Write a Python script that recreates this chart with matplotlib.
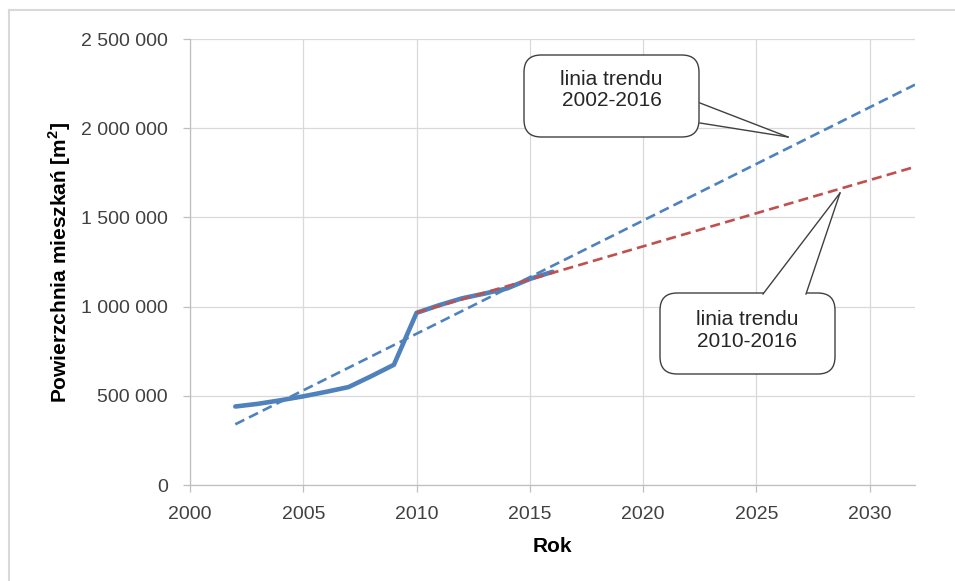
import numpy as np
import matplotlib
matplotlib.use("Agg")
import matplotlib.pyplot as plt
from matplotlib.patches import FancyBboxPatch, Polygon
from matplotlib.lines import Line2D
from matplotlib.ticker import FuncFormatter

# dane
lata = [2002, 2003, 2004, 2005, 2006, 2007, 2008, 2009,
        2010, 2011, 2012, 2013, 2014, 2015, 2016]
powierzchnia = [440000, 455000, 475000, 497000, 522000, 549000, 610000, 674000,
                965000, 1008000, 1046000, 1073000, 1102000, 1155000, 1195000]
koniec_trendu = 2032
xticks = [2000, 2005, 2010, 2015, 2020, 2025, 2030]
yticks = [0, 500000, 1000000, 1500000, 2000000, 2500000]

BLUE = "#4F81BD"
RED = "#C0504D"
GRID = "#D9D9D9"

plt.rcParams["font.family"] = ["Liberation Sans", "DejaVu Sans"]

W, H = 955, 581
fig = plt.figure(figsize=(W / 100, H / 100), dpi=100)
ax = fig.add_axes([190 / W, 1 - 485 / H, (915 - 190) / W, (485 - 39) / H])

x = np.array(lata, dtype=float)
y = np.array(powierzchnia, dtype=float)

# linie trendu (regresja liniowa jak w Excelu)
a1, b1 = np.polyfit(x, y, 1)
tx1 = np.array([lata[0], koniec_trendu])
m = x >= 2010
a2, b2 = np.polyfit(x[m], y[m], 1)
tx2 = np.array([2010, koniec_trendu])

ax.plot(x, y, color=BLUE, lw=3.3, solid_capstyle="round", zorder=3)
ax.plot(tx1, a1 * tx1 + b1, color=BLUE, lw=1.9, dashes=(3.8, 2.0), zorder=4)
ax.plot(tx2, a2 * tx2 + b2, color=RED, lw=1.9, dashes=(3.8, 2.0), zorder=4)

ax.set_xlim(2000, koniec_trendu)
ax.set_ylim(0, 2500000)
ax.set_xticks(xticks)
ax.set_yticks(yticks)
ax.yaxis.set_major_formatter(FuncFormatter(lambda v, p: f"{int(v):,}".replace(",", " ")))
ax.grid(True, color=GRID, lw=0.9)
ax.set_axisbelow(True)
for s in ["top", "right"]:
    ax.spines[s].set_visible(False)
for s in ["left", "bottom"]:
    ax.spines[s].set_color("#BFBFBF")
    ax.spines[s].set_linewidth(0.9)
ax.tick_params(axis="both", colors="#BFBFBF", labelcolor="#404040",
               labelsize=14, length=5, width=0.9)
ax.tick_params(axis="y", pad=11)
ax.tick_params(axis="x", pad=10)

ax.set_xlabel("Rok", fontsize=15, fontweight="bold", labelpad=10)
ax.set_ylabel("Powierzchnia mieszkań [m$^\\mathregular{2}$]", fontsize=15,
              fontweight="bold", labelpad=6)


def px(xp, yp):
    return (xp / W, 1 - yp / H)


def callout(x0, y0, x1, y1, base, tip, text, dy):
    box = FancyBboxPatch(px(x0, y1), (x1 - x0) / W, (y1 - y0) / H,
                         boxstyle="round,pad=0,rounding_size=0.018",
                         transform=fig.transFigure, facecolor="white",
                         edgecolor="#404040", lw=1.0, zorder=5,
                         mutation_aspect=W / H)
    fig.add_artist(box)
    wedge = Polygon([px(*base[0]), px(*tip), px(*base[1])], closed=True,
                    transform=fig.transFigure, facecolor="white",
                    edgecolor="none", zorder=6)
    fig.add_artist(wedge)
    for b in base:
        fig.add_artist(Line2D([px(*b)[0], px(*tip)[0]], [px(*b)[1], px(*tip)[1]],
                              transform=fig.transFigure, color="#404040",
                              lw=1.0, zorder=7))
    cx, cy = px((x0 + x1) / 2, (y0 + y1) / 2 + dy)
    fig.text(cx, cy, text, ha="center", va="center", fontsize=15,
             color="#262626", linespacing=1.15, zorder=8)


callout(524, 55, 699, 137, [(700, 103), (700, 123)], (788, 137),
        "linia trendu\n2002-2016", -6)
callout(660, 293, 835, 374, [(763, 294), (806, 294)], (840, 193),
        "linia trendu\n2010-2016", -3)

# ramka obszaru wykresu
fig.add_artist(Line2D([9 / W, 9 / W], [0, 1 - 10 / H], transform=fig.transFigure,
                      color="#D9D9D9", lw=1.5))
fig.add_artist(Line2D([9 / W, 1], [1 - 10 / H, 1 - 10 / H], transform=fig.transFigure,
                      color="#D9D9D9", lw=1.5))

fig.savefig("out.png", dpi=100)
